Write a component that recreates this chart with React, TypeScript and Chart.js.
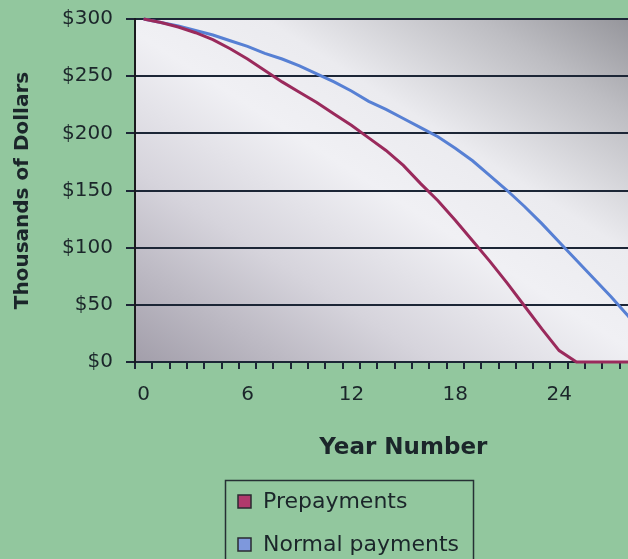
import React, { useEffect, useRef } from "react";
import { Chart, registerables } from "chart.js";

Chart.register(...registerables);

// ---- data ----
const years: string[] = [
  "0", "1", "2", "3", "4", "5", "6", "7", "8", "9", "10",
  "11", "12", "13", "14", "15", "16", "17", "18", "19", "20",
  "21", "22", "23", "24", "25", "26", "27", "28", "29", "30",
];
const shownYearLabels: string[] = ["0", "6", "12", "18", "24", "30"];

const prepayments: number[] = [
  300, 297, 293, 288, 282, 274, 265, 255, 245, 236, 227,
  217, 207, 196, 185, 172, 156, 141, 124, 106, 88,
  69, 49, 29, 10, 0, 0, 0, 0, 0, 0,
];
const normalPayments: number[] = [
  300, 297, 294, 290, 286, 281, 276, 270, 265, 259, 252,
  245, 237, 228, 221, 213, 205, 197, 187, 176, 163,
  150, 136, 121, 105, 89, 73, 57, 40, 20, 0,
];
const seriesNames: string[] = ["Prepayments", "Normal payments"];

const yTickValues: number[] = [0, 50, 100, 150, 200, 250, 300];
const yTickLabels: string[] = ["$0", "$50", "$100", "$150", "$200", "$250", "$300"];

// ---- style ----
const GREEN = "rgb(146,199,158)";
const TEXT = "#1b262a";
const GRID = "#1c2636";
const FONT = "'DejaVu Sans', Arial, sans-serif";
const RED = "#9a2a5c";
const BLUE = "#5780d4";
const RED_MARK = "#b03a6c";
const BLUE_MARK = "#7e98dc";

const bgPlugin = {
  id: "plotBg",
  beforeDraw(chart: any) {
    const { ctx, chartArea } = chart;
    const { left, right, top, bottom } = chartArea;
    const cx = (left + right) / 2;
    const cy = (top + bottom) / 2;
    const w = right - left;
    const h = bottom - top;
    const len = Math.sqrt(w * w + h * h);
    const ux = h / len;
    const uy = -w / len;
    const proj = (right - cx) * ux + (top - cy) * uy;
    const g = ctx.createLinearGradient(cx - proj * ux, cy - proj * uy, cx + proj * ux, cy + proj * uy);
    g.addColorStop(0, "#a29eaa");
    g.addColorStop(0.28, "#d6d4dc");
    g.addColorStop(0.48, "#f0f0f4");
    g.addColorStop(0.62, "#ebebef");
    g.addColorStop(0.82, "#bdbdc2");
    g.addColorStop(1, "#8a8a90");
    ctx.save();
    ctx.fillStyle = g;
    ctx.fillRect(left, top, w, h);
    ctx.restore();
  },
};

const legendPlugin = {
  id: "boxLegend",
  afterDraw(chart: any) {
    const { ctx } = chart;
    ctx.save();
    ctx.strokeStyle = "#263034";
    ctx.lineWidth = 1.5;
    ctx.strokeRect(225.5, 480.5, 248, 120);
    const marks = [RED_MARK, BLUE_MARK];
    chart.data.datasets.forEach((ds: any, i: number) => {
      const y = 502 + i * 43;
      ctx.fillStyle = marks[i];
      ctx.fillRect(238, y - 7, 13, 13);
      ctx.strokeStyle = "#2a2a30";
      ctx.lineWidth = 1.5;
      ctx.strokeRect(238, y - 7, 13, 13);
      ctx.fillStyle = TEXT;
      ctx.font = `22px ${FONT}`;
      ctx.textBaseline = "middle";
      ctx.textAlign = "left";
      ctx.fillText(ds.label, 263, y);
    });
    ctx.restore();
  },
};

export default function App() {
  const ref = useRef<HTMLCanvasElement | null>(null);

  useEffect(() => {
    if (!ref.current) return;
    const chart = new Chart(ref.current, {
      type: "line",
      data: {
        labels: years,
        datasets: [
          {
            label: seriesNames[0],
            data: prepayments,
            borderColor: RED,
            backgroundColor: RED_MARK,
            borderWidth: 3,
            pointRadius: 0,
            tension: 0,
            clip: false as any,
          },
          {
            label: seriesNames[1],
            data: normalPayments,
            borderColor: BLUE,
            backgroundColor: BLUE_MARK,
            borderWidth: 3,
            pointRadius: 0,
            tension: 0,
            clip: false as any,
          },
        ],
      },
      options: {
        animation: false,
        responsive: true,
        maintainAspectRatio: false,
        devicePixelRatio: 1,
        layout: { padding: { top: 19, left: 0, right: 17, bottom: 97 } },
        plugins: { legend: { display: false }, tooltip: { enabled: false } },
        scales: {
          x: {
            type: "category",
            offset: true,
            grid: {
              offset: true,
              drawOnChartArea: false,
              drawTicks: true,
              tickLength: 7,
              tickColor: GRID,
              lineWidth: 2,
            },
            border: { color: GRID, width: 2 },
            ticks: {
              autoSkip: false,
              maxRotation: 0,
              minRotation: 0,
              padding: 14,
              color: TEXT,
              font: { family: FONT, size: 20 },
              callback: (_v: any, i: number) =>
                shownYearLabels.includes(years[i]) ? years[i] : "",
            },
            title: {
              display: true,
              text: "Year Number",
              color: TEXT,
              font: { family: FONT, size: 23, weight: "bold" },
              padding: { top: 0, bottom: 0 },
            },
            afterFit: (s: any) => {
              s.height = 100;
            },
          },
          y: {
            min: 0,
            max: 300,
            grid: {
              color: GRID,
              lineWidth: 2,
              drawTicks: true,
              tickLength: 9,
              tickColor: GRID,
            },
            border: { color: "#1a1a1e", width: 2 },
            afterBuildTicks: (s: any) => {
              s.ticks = yTickValues.map((v) => ({ value: v }));
            },
            ticks: {
              padding: 13,
              color: TEXT,
              font: { family: FONT, size: 20 },
              callback: (v: any) => {
                const idx = yTickValues.indexOf(Number(v));
                return idx >= 0 ? yTickLabels[idx] : "";
              },
            },
            title: {
              display: true,
              text: "Thousands of Dollars",
              color: TEXT,
              font: { family: FONT, size: 20, weight: "bold" },
              padding: { top: 11, bottom: 0 },
            },
            afterFit: (s: any) => {
              s.width = 135;
              s.paddingTop = 12;
              s.paddingBottom = 12;
            },
          },
        },
      },
      plugins: [bgPlugin, legendPlugin],
    });
    return () => chart.destroy();
  }, []);

  return (
    <div
      style={{
        position: "fixed",
        left: 0,
        top: 0,
        width: 628,
        height: 559,
        overflow: "hidden",
        background: GREEN,
      }}
    >
      <div style={{ position: "relative", width: 690, height: 559 }}>
        <canvas ref={ref} />
      </div>
    </div>
  );
}
